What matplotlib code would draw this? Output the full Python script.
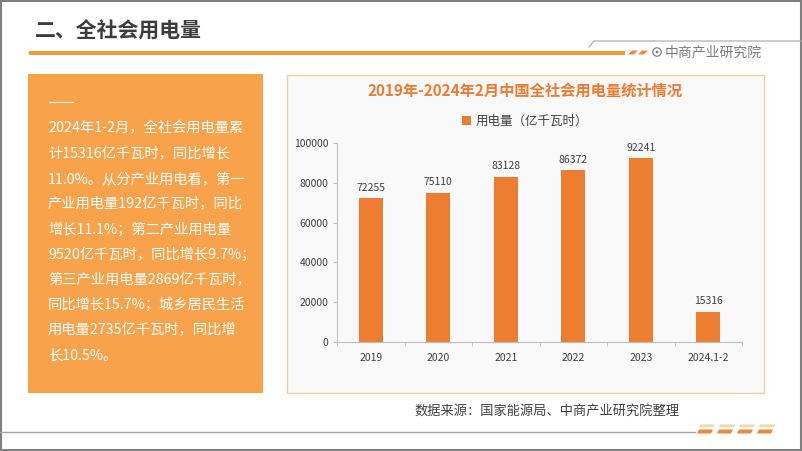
import matplotlib
matplotlib.use('Agg')
import matplotlib.pyplot as plt
from matplotlib.patches import Rectangle, Polygon, Circle

plt.rcParams['font.family'] = ['Noto Sans CJK SC', 'DejaVu Sans']

# data
years = ['2019', '2020', '2021', '2022', '2023', '2024.1-2']
power = [72255, 75110, 83128, 86372, 92241, 15316]
yticks = [0, 20000, 40000, 60000, 80000, 100000]

page_title = '二、全社会用电量'
chart_title = '2019年-2024年2月中国全社会用电量统计情况'
series_name = '用电量（亿千瓦时）'
source = '数据来源：国家能源局、中商产业研究院整理'
brand = '中商产业研究院'
text_lines = [
    '2024年1-2月，全社会用电量累',
    '计15316亿千瓦时，同比增长',
    '11.0%。从分产业用电看，第一',
    '产业用电量192亿千瓦时，同比',
    '增长11.1%；第二产业用电量',
    '9520亿千瓦时，同比增长9.7%；',
    '第三产业用电量2869亿千瓦时，',
    '同比增长15.7%；城乡居民生活',
    '用电量2735亿千瓦时，同比增',
    '长10.5%。',
]

W, H = 802, 451
fig = plt.figure(figsize=(W / 100, H / 100), dpi=100)
fig.patch.set_facecolor('white')

# background layer in pixel coordinates
bg = fig.add_axes([0, 0, 1, 1])
bg.set_xlim(0, W)
bg.set_ylim(H, 0)
bg.axis('off')

# outer frame
bg.add_patch(Rectangle((1, 1), W - 2, H - 2, fill=False, edgecolor='#808080', lw=1.5))

# header
bg.text(35, 31, page_title, fontsize=15, fontweight='bold', color='#3c3c3c', va='center', ha='left')
bg.add_patch(Rectangle((29, 51), 596, 3.5, color='#F39A3C', lw=0))
for x0 in (628, 638):
    bg.add_patch(Polygon([(x0, 54.5), (x0 + 4, 50.5), (x0 + 10, 50.5), (x0 + 6, 54.5)],
                         closed=True, color='#F08A3A', lw=0))
bg.plot([589, 594, W], [47, 41, 41], color='#A6A6A6', lw=0.8)
bg.add_patch(Circle((657, 52), 4.2, fill=False, edgecolor='#7f7f7f', lw=0.9))
bg.add_patch(Circle((657, 52), 1.4, color='#7f7f7f', lw=0))
bg.text(665, 52, brand, fontsize=10, color='#7f7f7f', va='center', ha='left')

# left text panel
bg.add_patch(Rectangle((28, 74), 235, 319, color='#F8A24B', lw=0))
bg.plot([49, 73], [102, 102], color='white', lw=0.8)
for i, line in enumerate(text_lines):
    bg.text(48, 128.5 + i * 25.2, line, fontsize=10.3, color='white', va='center', ha='left')

# chart panel
bg.add_patch(Rectangle((287, 74.5), 477, 318.5, facecolor='#F9F9F9', edgecolor='#F6CBA6', lw=1))
bg.text(525, 91, chart_title, fontsize=11, fontweight='bold', color='#EE7B30', va='center', ha='center')
bg.text(547, 412, source, fontsize=9.5, color='#404040', va='center', ha='center')

# footer line with dashes
bg.plot([0, 695], [432, 432], color='#A6A6A6', lw=1)
for k in range(4):
    x0 = 697 + k * 20
    bg.add_patch(Polygon([(x0, 433.5), (x0 + 2, 429.5), (x0 + 16, 429.5), (x0 + 14, 433.5)],
                         closed=True, color='#F0883A', lw=0))
    bg.add_patch(Polygon([(x0 + 2, 427), (x0 + 3, 424.5), (x0 + 18, 424.5), (x0 + 17, 427)],
                         closed=True, color='#FBD3A5', lw=0))

# bar chart
ax = fig.add_axes([337 / W, (H - 342) / H, (742 - 337) / W, (342 - 143) / H])
ax.set_facecolor('none')
x = list(range(len(years)))
bars = ax.bar(x, power, width=0.36, color='#ED7D31', label=series_name, zorder=3)
ax.bar_label(bars, labels=[str(v) for v in power], padding=4, fontsize=7.5, color='#404040')
ax.set_xlim(-0.5, len(years) - 0.5)
ax.set_ylim(0, 100000)
ax.set_yticks(yticks)
ax.set_yticklabels([str(v) for v in yticks], fontsize=7.5, color='#404040')
ax.set_xticks(x)
ax.set_xticklabels(years, fontsize=7.5, color='#404040')
ax.set_xticks([i - 0.5 for i in range(len(years) + 1)], minor=True)
ax.tick_params(axis='x', which='major', length=0, pad=8)
ax.tick_params(axis='x', which='minor', length=3, color='#BFBFBF', direction='out')
ax.tick_params(axis='y', length=3, color='#BFBFBF', pad=3)
for s in ('top', 'right'):
    ax.spines[s].set_visible(False)
for s in ('left', 'bottom'):
    ax.spines[s].set_color('#BFBFBF')
    ax.spines[s].set_linewidth(0.8)

fig.legend(handles=[bars], labels=[series_name], loc='center', bbox_to_anchor=(525 / W, 1 - 121 / H),
           frameon=False, fontsize=9, handlelength=0.7, handleheight=0.7, handletextpad=0.4,
           labelcolor='#404040')

fig.savefig('out.png', dpi=100)
